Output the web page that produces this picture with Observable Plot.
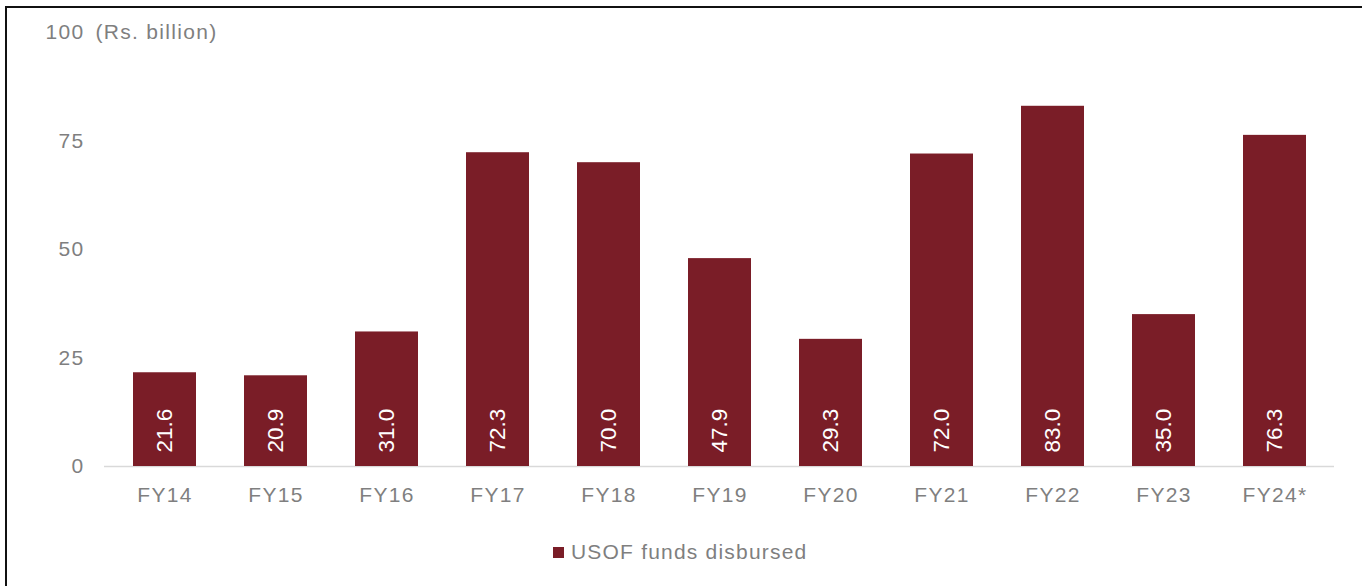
<!DOCTYPE html>
<html>
<head>
<meta charset="utf-8">
<script src="https://cdn.jsdelivr.net/npm/d3@7"></script>
<script src="https://cdn.jsdelivr.net/npm/@observablehq/plot@0.6"></script>
<style>
  html, body { margin: 0; padding: 0; background: #fff; width: 1362px; height: 586px; overflow: hidden; }
  #frame-top { position: absolute; left: 5px; top: 6px; width: 1357px; height: 2px; background: #111; }
  #frame-left { position: absolute; left: 5px; top: 6px; width: 2px; height: 580px; background: #111; }
  #chart { position: absolute; left: 0; top: 0; }
  #chart text { font-family: "Liberation Sans", Arial, sans-serif; }
  g[aria-label="y-axis tick label"] text, g[aria-label="x-axis tick label"] text, .unit text { letter-spacing: 1.3px; }
  #legend { position: absolute; left: 553px; top: 540px; display: flex; align-items: center; font-family: "Liberation Sans", Arial, sans-serif; font-size: 21px; color: #7f7f7f; letter-spacing: 1.2px; }
  #legend .sw { width: 11px; height: 11px; background: #7a1d27; margin-right: 7px; }
</style>
</head>
<body>
<div id="frame-top"></div>
<div id="frame-left"></div>
<div id="chart"></div>
<div id="legend"><span class="sw"></span><span>USOF funds disbursed</span></div>
<script>
const years = ["FY14", "FY15", "FY16", "FY17", "FY18", "FY19", "FY20", "FY21", "FY22", "FY23", "FY24*"];
const funds = [21.6, 20.9, 31.0, 72.3, 70.0, 47.9, 29.3, 72.0, 83.0, 35.0, 76.3];
const yTicks = [0, 25, 50, 75, 100];
const unitLabel = "(Rs. billion)";
const seriesName = "USOF funds disbursed";

const data = years.map((y, i) => ({ year: y, value: funds[i] }));
const barColor = "#7a1d27";
const gray = "#7f7f7f";

const plot = Plot.plot({
  width: 1362,
  height: 520,
  marginTop: 32,
  marginBottom: 54,
  marginLeft: 104,
  marginRight: 28,
  style: { fontFamily: "Liberation Sans, Arial, sans-serif", fontSize: "21px", color: gray, background: "transparent" },
  x: { domain: years, paddingInner: 0.435, paddingOuter: 0.215, label: null },
  y: { domain: [0, 100], label: null },
  marks: [
    Plot.axisY({ ticks: yTicks, tickSize: 0, tickPadding: 20, fontSize: 21, fill: gray, label: null }),
    Plot.axisX({ tickSize: 0, tickPadding: 21, fontSize: 21, fill: gray, label: null }),
    Plot.ruleY([0], { stroke: "#d9d9d9", strokeWidth: 1.5 }),
    Plot.barY(data, { x: "year", y: "value", fill: barColor }),
    Plot.text(data, {
      x: "year", y: 0, text: d => d.value.toFixed(1),
      rotate: -90, textAnchor: "start", dy: -14, dx: 0,
      fill: "white", fontSize: 22.5, lineAnchor: "middle"
    }),
    Plot.text([100], {
      y: d => d, text: () => unitLabel, frameAnchor: "left", dx: -9,
      textAnchor: "start", fill: gray, fontSize: 21, className: "unit"
    })
  ]
});
document.getElementById("chart").appendChild(plot);
</script>
</body>
</html>
